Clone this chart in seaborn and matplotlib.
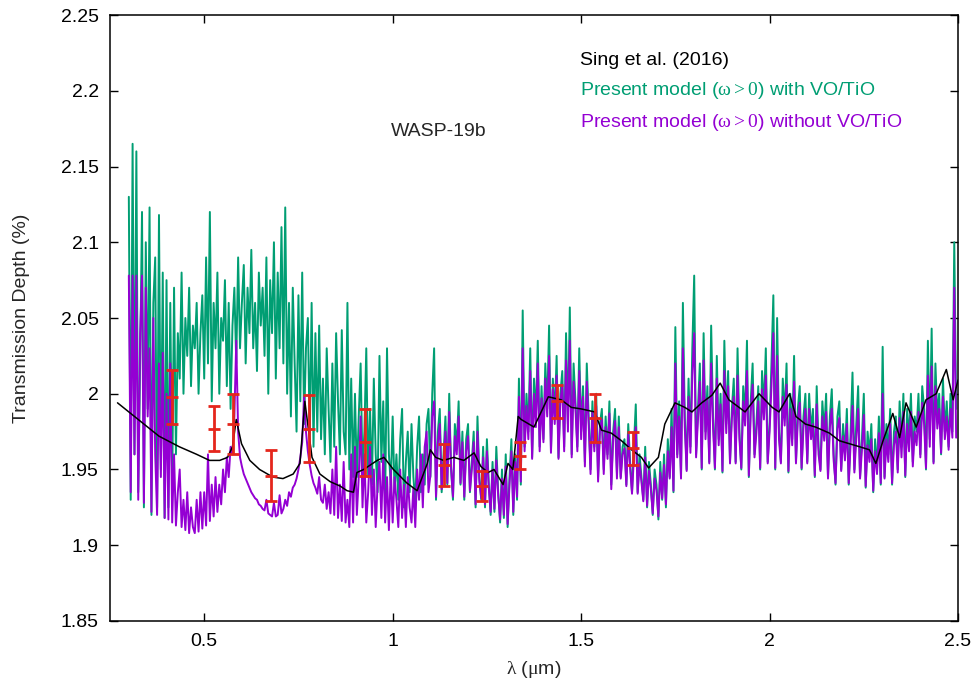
import numpy as np
import pandas as pd
import matplotlib
matplotlib.use("Agg")
import matplotlib.pyplot as plt
from matplotlib.ticker import FuncFormatter, MultipleLocator
import seaborn as sns

# --- data -----------------------------------------------------------------
# model spectra sampled every 0.005 um from 0.300 to 2.495 um (one row = 0.1 um)
wl_start, wl_step, n_pts = 0.30, 0.005, 440

green_td = [
    2.130, 1.930, 2.165, 1.960, 2.160, 1.935, 2.020, 2.120, 1.925, 2.100, 1.990, 2.123, 1.920, 2.060, 2.090, 1.925, 2.118, 1.950, 2.080, 1.918,
    2.075, 1.925, 2.060, 1.935, 2.070, 1.960, 2.040, 2.010, 2.080, 2.000, 2.050, 2.025, 2.070, 2.005, 2.045, 2.030, 2.060, 2.000, 2.040, 2.065,
    2.010, 2.090, 2.020, 2.120, 1.995, 2.060, 2.030, 2.080, 2.000, 2.050, 2.035, 2.075, 2.005, 2.060, 1.990, 2.045, 2.070, 2.020, 2.090, 2.030,
    2.060, 2.085, 2.020, 2.070, 2.040, 2.095, 2.030, 2.060, 2.015, 2.080, 2.045, 2.070, 2.025, 2.090, 2.000, 2.075, 2.040, 2.100, 2.010, 2.080,
    2.030, 2.110, 2.020, 2.123, 2.000, 2.060, 1.985, 2.070, 2.020, 1.975, 2.065, 1.995, 2.080, 1.980, 2.030, 2.050, 1.970, 2.060, 1.965, 2.040,
    1.975, 2.045, 1.970, 2.010, 1.960, 2.030, 1.990, 1.955, 2.020, 1.965, 2.040, 1.995, 1.960, 2.042, 1.975, 1.960, 2.060, 1.950, 2.010, 1.945,
    2.000, 1.945, 1.985, 2.020, 1.950, 1.975, 2.030, 1.945, 1.990, 1.940, 2.010, 1.960, 1.935, 2.025, 1.955, 1.995, 1.930, 2.030, 1.960, 1.940,
    1.985, 1.935, 1.960, 1.930, 1.970, 1.990, 1.925, 1.955, 1.975, 1.935, 1.980, 1.945, 1.928, 1.965, 1.985, 1.935, 1.960, 1.940, 1.980, 1.990,
    1.945, 2.000, 2.030, 1.930, 1.975, 1.990, 1.935, 1.960, 1.985, 1.940, 2.000, 1.950, 1.930, 1.980, 1.965, 1.995, 1.940, 1.975, 1.930, 1.970,
    1.980, 1.935, 1.955, 1.975, 1.925, 1.985, 1.945, 1.930, 1.965, 1.925, 1.970, 1.940, 1.920, 1.955, 1.922, 1.965, 1.935, 1.915, 1.950, 1.918,
    1.960, 1.912, 1.945, 1.970, 1.920, 1.960, 1.930, 2.010, 1.940, 2.055, 1.965, 2.000, 1.975, 2.030, 1.958, 2.010, 1.985, 2.035, 1.965, 2.005,
    1.970, 2.020, 1.990, 2.045, 1.962, 2.010, 1.985, 2.025, 1.958, 2.000, 2.015, 1.965, 2.040, 1.980, 2.057, 1.960, 2.020, 1.995, 1.965, 2.030,
    1.975, 2.005, 1.955, 2.020, 1.985, 1.950, 1.995, 1.965, 2.000, 1.945, 1.980, 1.990, 1.950, 1.985, 1.960, 1.995, 1.940, 1.975, 1.990, 1.948,
    1.985, 1.945, 1.965, 1.970, 1.940, 1.980, 1.955, 1.935, 1.965, 1.993, 1.935, 1.960, 1.945, 1.930, 1.965, 1.925, 1.955, 1.940, 1.920, 1.950,
    1.940, 1.917, 1.955, 1.930, 1.960, 1.925, 1.970, 1.945, 1.990, 1.935, 2.044, 1.960, 1.995, 1.945, 2.060, 1.985, 1.950, 2.010, 1.965, 2.030,
    2.078, 1.960, 1.990, 2.020, 1.950, 2.040, 1.975, 2.005, 1.955, 2.045, 1.985, 1.950, 2.025, 1.970, 2.000, 1.948, 2.035, 1.980, 2.015, 1.955,
    1.990, 2.010, 1.955, 2.030, 1.975, 1.950, 2.005, 1.985, 2.035, 1.945, 1.995, 2.020, 1.960, 1.980, 2.005, 1.950, 2.015, 1.990, 2.030, 1.955,
    1.980, 2.020, 2.065, 1.950, 2.050, 1.975, 1.955, 2.010, 1.985, 2.020, 1.948, 2.000, 1.970, 2.025, 1.955, 1.990, 2.005, 1.950, 1.985, 2.000,
    1.955, 2.000, 1.975, 1.990, 1.945, 2.005, 1.965, 1.950, 1.995, 1.975, 2.000, 1.945, 1.985, 2.003, 1.960, 1.940, 1.985, 1.995, 1.950, 1.980,
    1.960, 1.990, 1.940, 1.975, 2.014, 1.950, 1.980, 2.005, 1.945, 1.970, 2.000, 1.938, 1.975, 1.960, 1.980, 1.935, 1.970, 1.950, 1.985, 1.940,
    2.031, 1.945, 1.980, 1.960, 1.990, 1.940, 1.975, 1.985, 1.950, 1.995, 1.965, 2.000, 1.945, 1.990, 1.970, 2.000, 1.955, 1.985, 1.975, 2.000,
    1.960, 2.005, 1.990, 1.950, 2.035, 1.970, 2.043, 1.955, 2.020, 1.985, 2.000, 1.960, 2.010, 1.975, 1.995, 1.965, 2.000, 1.975, 2.100, 1.990,
]

purple_td = [
    2.078, 1.935, 2.078, 1.960, 2.078, 1.930, 2.040, 2.078, 1.928, 2.070, 1.985, 2.030, 1.922, 2.050, 1.960, 1.920, 2.020, 1.945, 2.027, 1.918,
    2.000, 1.917, 2.020, 1.915, 1.960, 1.913, 1.935, 1.950, 1.912, 1.930, 1.910, 1.935, 1.908, 1.925, 1.912, 1.908, 1.930, 1.909, 1.935, 1.911,
    1.935, 1.913, 1.960, 1.916, 1.940, 1.919, 1.945, 1.922, 1.940, 1.927, 1.950, 1.935, 1.958, 1.945, 1.965, 1.960, 1.985, 2.035, 1.975, 1.958,
    1.952, 1.947, 1.944, 1.941, 1.938, 1.935, 1.933, 1.931, 1.930, 1.927, 1.926, 1.924, 1.923, 1.930, 1.921, 1.920, 1.919, 1.928, 1.919, 1.920,
    1.933, 1.921, 1.924, 1.930, 1.926, 1.935, 1.932, 1.938, 1.940, 1.944, 1.950, 1.958, 1.968, 1.998, 1.975, 1.962, 1.953, 1.946, 1.941, 1.938,
    1.934, 1.945, 1.930, 1.928, 1.940, 1.924, 1.935, 1.921, 1.950, 1.920, 1.965, 1.918, 1.940, 1.916, 1.955, 1.915, 1.930, 1.912, 1.960, 1.915,
    1.965, 1.920, 1.945, 1.985, 1.925, 1.960, 1.915, 1.935, 1.965, 1.920, 1.950, 1.912, 1.940, 1.955, 1.918, 1.960, 1.915, 1.945, 1.910, 1.950,
    1.915, 1.945, 1.930, 1.912, 1.950, 1.918, 1.940, 1.912, 1.945, 1.925, 1.915, 1.938, 1.912, 1.950, 1.930, 1.960, 1.925, 1.965, 1.975, 1.935,
    1.946, 1.985, 1.995, 1.932, 1.968, 1.980, 1.937, 1.955, 1.975, 1.941, 1.988, 1.951, 1.932, 1.972, 1.960, 1.985, 1.941, 1.968, 1.932, 1.962,
    1.972, 1.936, 1.950, 1.968, 1.927, 1.975, 1.942, 1.931, 1.958, 1.927, 1.962, 1.938, 1.922, 1.950, 1.924, 1.956, 1.933, 1.917, 1.944, 1.920,
    1.952, 1.914, 1.940, 1.962, 1.922, 1.955, 1.932, 1.998, 1.942, 2.030, 1.962, 1.992, 1.970, 2.015, 1.957, 2.000, 1.978, 2.020, 1.962, 1.997,
    1.968, 2.010, 1.985, 2.025, 1.961, 2.003, 1.980, 2.012, 1.957, 1.995, 2.006, 1.962, 2.022, 1.975, 2.035, 1.958, 2.008, 1.990, 1.962, 2.015,
    1.970, 1.998, 1.952, 2.008, 1.980, 1.947, 1.988, 1.962, 1.992, 1.942, 1.976, 1.983, 1.947, 1.978, 1.957, 1.987, 1.937, 1.970, 1.982, 1.944,
    1.978, 1.944, 1.960, 1.964, 1.939, 1.973, 1.951, 1.934, 1.958, 1.978, 1.934, 1.954, 1.942, 1.929, 1.958, 1.926, 1.949, 1.937, 1.921, 1.944,
    1.936, 1.919, 1.948, 1.931, 1.953, 1.927, 1.962, 1.944, 1.978, 1.936, 2.020, 1.958, 1.985, 1.944, 2.030, 1.978, 1.949, 1.998, 1.961, 2.012,
    2.040, 1.958, 1.983, 2.008, 1.951, 2.022, 1.970, 1.997, 1.954, 2.020, 1.978, 1.951, 2.010, 1.966, 1.993, 1.949, 2.015, 1.974, 2.005, 1.954,
    1.984, 1.998, 1.954, 2.012, 1.970, 1.951, 1.995, 1.979, 2.015, 1.946, 1.988, 2.006, 1.958, 1.974, 1.995, 1.951, 2.003, 1.983, 2.012, 1.954,
    1.975, 2.005, 2.040, 1.951, 2.025, 1.970, 1.954, 1.998, 1.979, 2.006, 1.949, 1.990, 1.966, 2.008, 1.954, 1.983, 1.994, 1.951, 1.978, 1.990,
    1.954, 1.990, 1.970, 1.980, 1.946, 1.993, 1.960, 1.949, 1.985, 1.969, 1.988, 1.944, 1.978, 1.990, 1.956, 1.941, 1.977, 1.984, 1.949, 1.972,
    1.956, 1.980, 1.941, 1.966, 1.992, 1.948, 1.970, 1.990, 1.944, 1.963, 1.986, 1.939, 1.966, 1.955, 1.970, 1.936, 1.962, 1.947, 1.974, 1.941,
    2.000, 1.944, 1.970, 1.955, 1.980, 1.941, 1.966, 1.975, 1.948, 1.984, 1.958, 1.988, 1.946, 1.980, 1.962, 1.988, 1.952, 1.975, 1.966, 1.988,
    1.958, 1.994, 1.980, 1.951, 2.012, 1.965, 2.018, 1.954, 2.005, 1.977, 1.990, 1.961, 1.998, 1.970, 1.985, 1.963, 1.990, 1.971, 2.070, 1.971,
]

# Sing et al. (2016) model
sing_wl = [0.27, 0.30, 0.335, 0.38, 0.434, 0.48, 0.514, 0.541, 0.562, 0.575, 0.585, 0.599, 0.621, 0.647,
           0.682, 0.709, 0.736, 0.754, 0.767, 0.786, 0.807, 0.834, 0.861, 0.879, 0.896, 0.905, 0.923, 0.959,
           0.977, 1.002, 1.038, 1.065, 1.092, 1.10, 1.114, 1.135, 1.162, 1.189, 1.216, 1.234, 1.253, 1.269,
           1.293, 1.306, 1.319, 1.333, 1.341, 1.375, 1.413, 1.447, 1.474, 1.5, 1.536, 1.554, 1.58, 1.607,
           1.634, 1.66, 1.679, 1.705, 1.722, 1.749, 1.775, 1.794, 1.82, 1.847, 1.869, 1.892, 1.919, 1.935,
           1.972, 2.007, 2.025, 2.053, 2.07, 2.095, 2.122, 2.159, 2.185, 2.212, 2.239, 2.265, 2.282, 2.301,
           2.327, 2.345, 2.362, 2.389, 2.415, 2.442, 2.469, 2.487, 2.5]
sing_td = [1.994, 1.988, 1.981, 1.972, 1.965, 1.96, 1.956, 1.956, 1.958, 1.965, 1.983, 1.967, 1.956, 1.95,
           1.945, 1.944, 1.947, 1.954, 1.995, 1.958, 1.947, 1.942, 1.939, 1.936, 1.935, 1.948, 1.95, 1.956,
           1.958, 1.95, 1.941, 1.936, 1.954, 1.963, 1.958, 1.956, 1.958, 1.956, 1.961, 1.952, 1.948, 1.95,
           1.94, 1.954, 1.95, 1.985, 1.983, 1.978, 1.998, 1.996, 1.991, 1.99, 1.988, 1.976, 1.974, 1.969,
           1.963, 1.958, 1.951, 1.958, 1.98, 1.994, 1.991, 1.988, 1.994, 1.999, 2.007, 1.996, 1.991, 1.988,
           2.0, 1.991, 1.988, 2.0, 1.985, 1.98, 1.978, 1.974, 1.969, 1.967, 1.965, 1.963, 1.954, 1.969,
           1.987, 1.971, 1.994, 1.978, 1.996, 2.0, 2.016, 1.996, 2.009]

# observations with error bars
obs_wl = [0.415, 0.527, 0.576, 0.677, 0.777, 0.927, 1.136, 1.237, 1.337, 1.437, 1.536, 1.637]
obs_td = [1.998, 1.977, 1.980, 1.946, 1.977, 1.968, 1.953, 1.939, 1.959, 1.995, 1.984, 1.964]
obs_err = [0.018, 0.015, 0.020, 0.017, 0.022, 0.022, 0.014, 0.010, 0.009, 0.011, 0.016, 0.011]

# --- style --------------------------------------------------------------------
sns.set_theme(style="ticks")
plt.rcParams["font.family"] = ["Liberation Sans", "DejaVu Sans"]
# upright serif greek / digits inside $...$, like the Symbol font in the original
plt.rcParams["mathtext.fontset"] = "custom"
plt.rcParams["mathtext.rm"] = "Liberation Serif"
plt.rcParams["mathtext.it"] = "Liberation Serif"
plt.rcParams["mathtext.bf"] = "Liberation Serif:bold"
fs = 14
c_green, c_purple, c_red = "#009E73", "#9400D3", "#E5261C"

wl = np.round(wl_start + wl_step * np.arange(n_pts), 3)
spec = pd.DataFrame({"wl": wl, "green": green_td, "purple": purple_td})

fig = plt.figure(figsize=(9.75, 6.83), dpi=100)
ax = fig.add_axes([0.1128, 0.0908, 0.8698, 0.8872])

sns.lineplot(data=spec, x="wl", y="green", ax=ax, color=c_green, lw=1.4,
             estimator=None, sort=False, zorder=2)
sns.lineplot(data=spec, x="wl", y="purple", ax=ax, color=c_purple, lw=1.4,
             estimator=None, sort=False, zorder=3)
sns.lineplot(x=sing_wl, y=sing_td, ax=ax, color="black", lw=1.1,
             estimator=None, sort=False, zorder=4)
ax.errorbar(obs_wl, obs_td, yerr=obs_err, fmt="_", color=c_red, ecolor=c_red,
            elinewidth=2.0, capsize=4.5, capthick=2.0, markersize=9, mew=2.0, zorder=5)

ax.set_xlim(0.25, 2.5)
ax.set_ylim(1.85, 2.25)
ax.xaxis.set_major_locator(MultipleLocator(0.5))
ax.yaxis.set_major_locator(MultipleLocator(0.05))
fmt = FuncFormatter(lambda v, p: "%g" % round(v, 3))
ax.xaxis.set_major_formatter(fmt)
ax.yaxis.set_major_formatter(fmt)
ax.tick_params(direction="in", length=6, width=1, colors="black", labelsize=fs,
               top=True, right=True)
ax.tick_params(axis="x", pad=9)
ax.tick_params(axis="y", pad=8)
for sp in ax.spines.values():
    sp.set_visible(True)
    sp.set_linewidth(1.1)
    sp.set_color("black")

ax.set_xlabel(r"$\lambda$ ($\mu$m)", fontsize=fs, labelpad=6)
ax.set_ylabel("Transmission Depth (%)", fontsize=fs, labelpad=22)

ax.text(0.996, 2.173, "WASP-19b", fontsize=fs, ha="left", va="center")
ax.text(1.498, 2.220, "Sing et al. (2016)", fontsize=fs, ha="left", va="center", color="black")
ax.text(1.498, 2.200, r"Present model ($\omega > 0$) with VO/TiO", fontsize=fs,
        ha="left", va="center", color=c_green)
ax.text(1.498, 2.179, r"Present model ($\omega > 0$) without VO/TiO", fontsize=fs,
        ha="left", va="center", color=c_purple)

fig.savefig("out.png", dpi=100)
plt.close(fig)
